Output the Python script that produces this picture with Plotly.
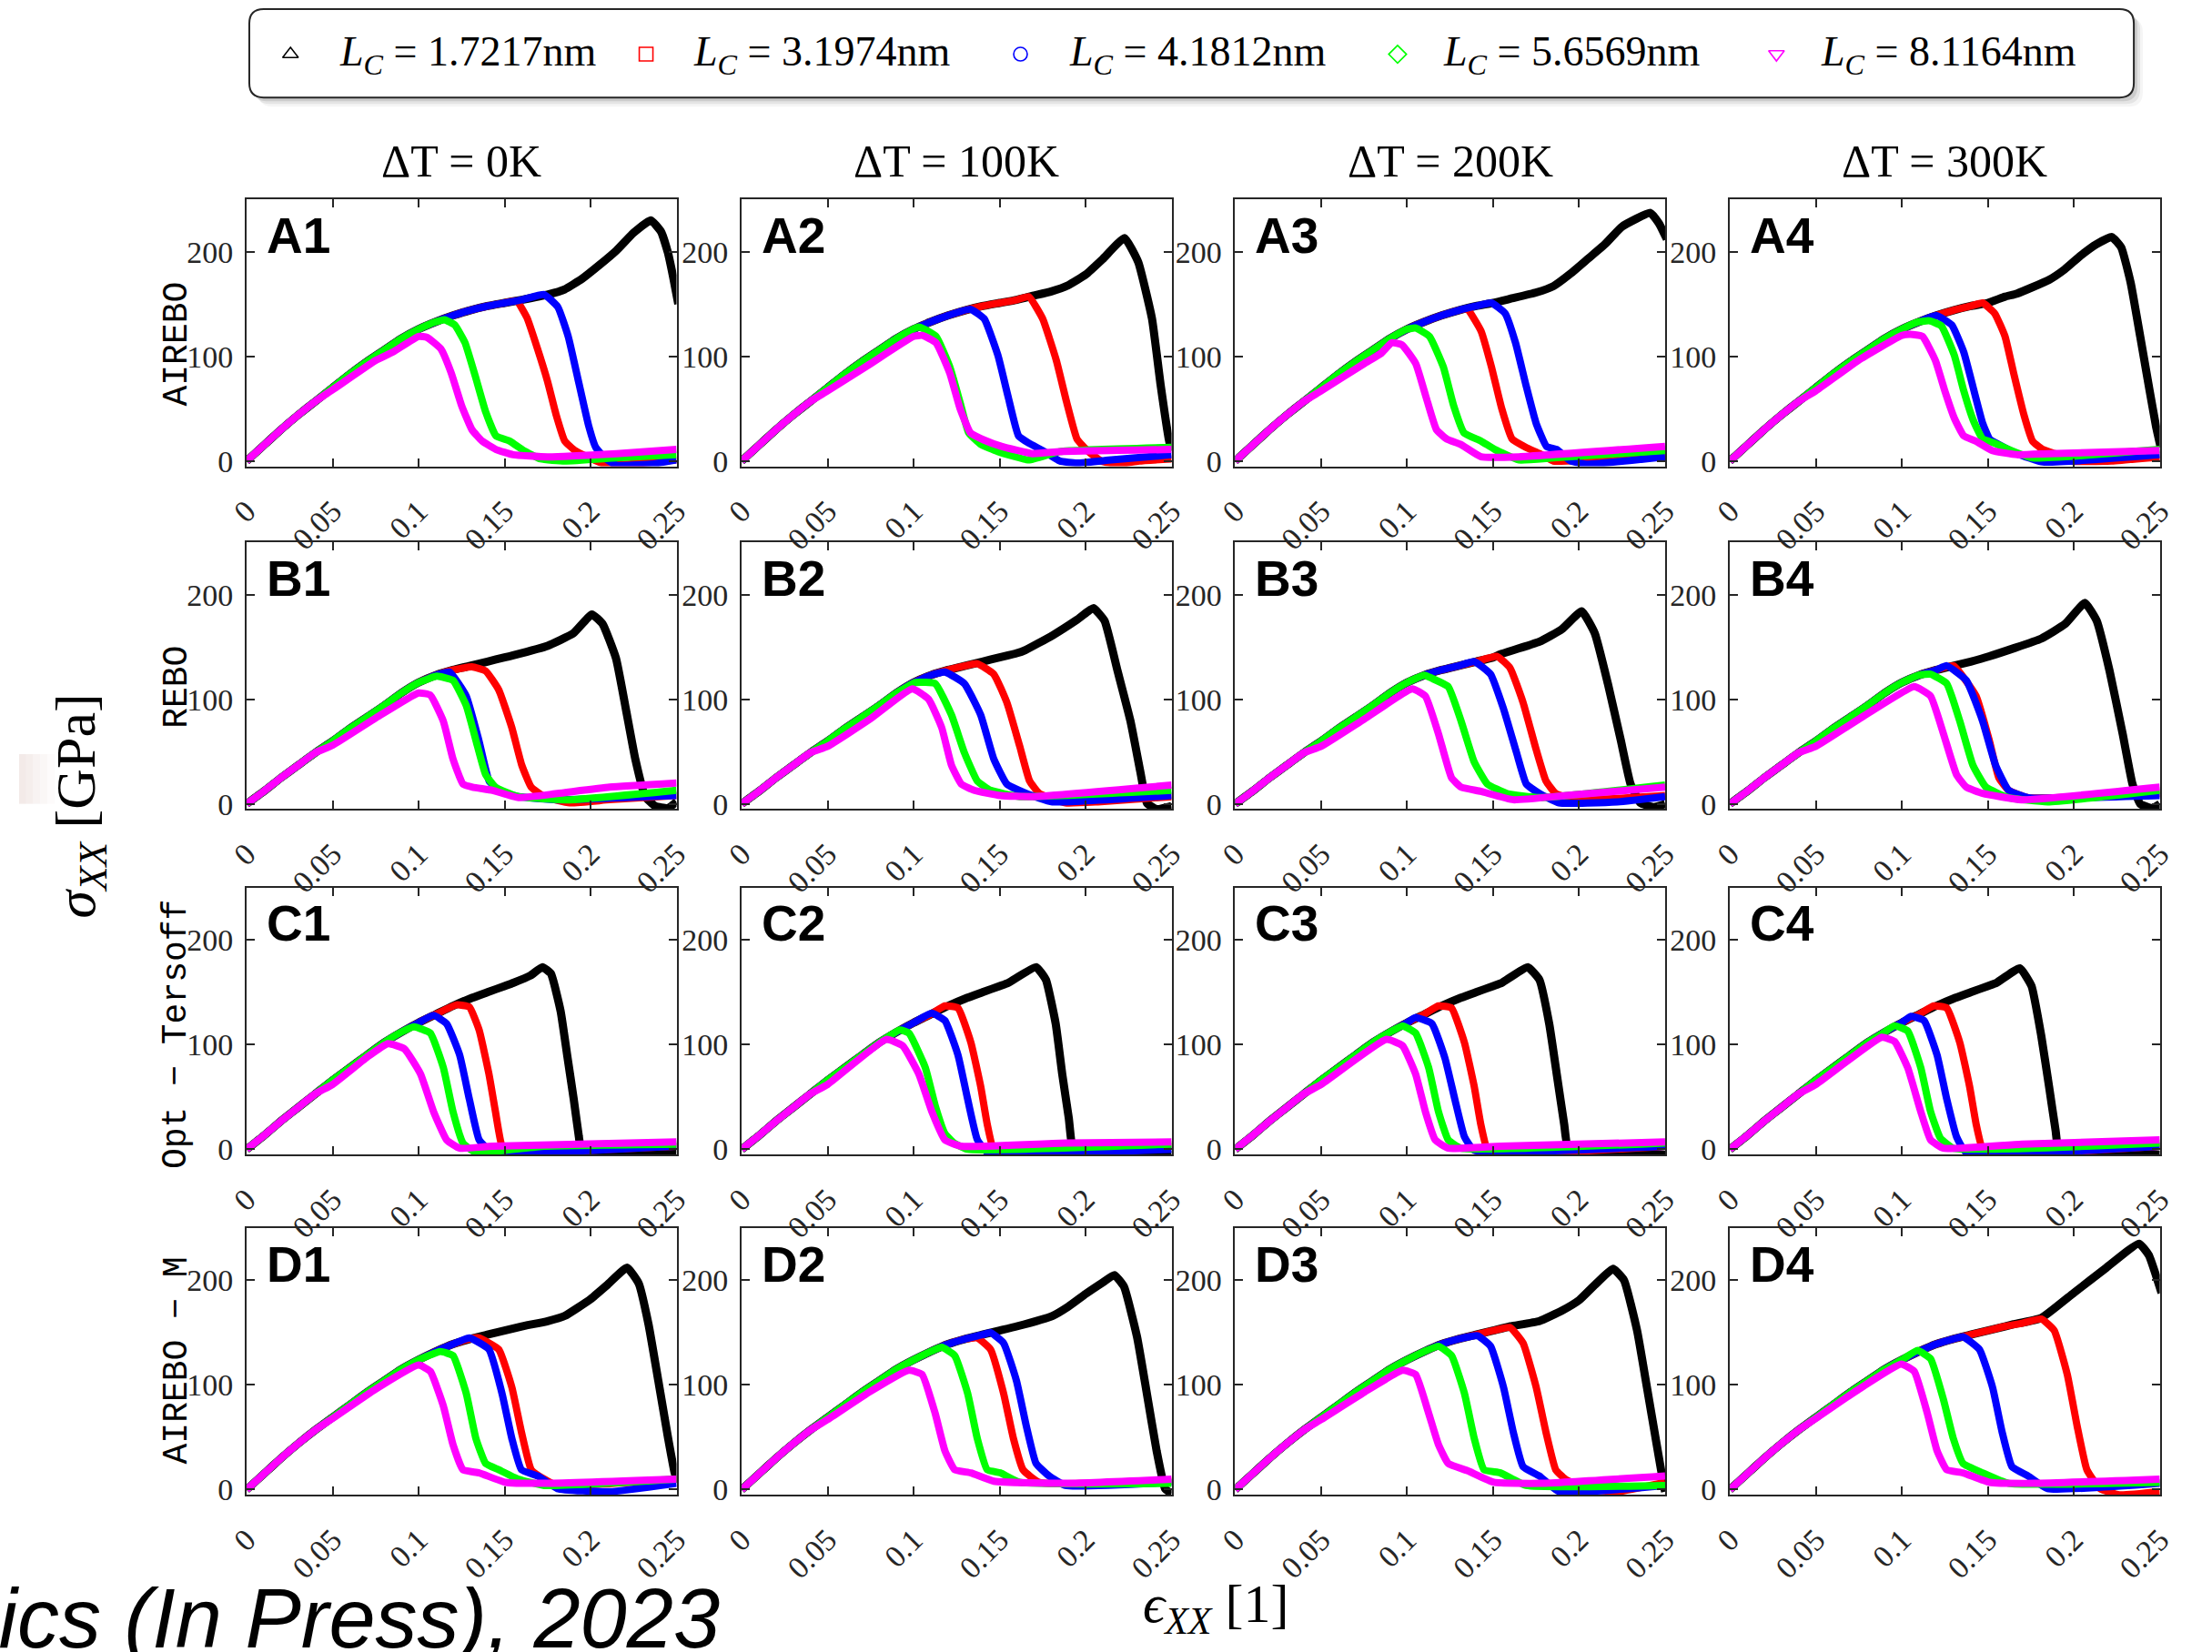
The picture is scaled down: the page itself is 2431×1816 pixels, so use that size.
import plotly.graph_objects as go

FIG_W, FIG_H = 2431, 1816

# ---------------------------------------------------------------- labels / ticks
STRAIN_TICKS = [0, 0.05, 0.1, 0.15, 0.2, 0.25]
STRAIN_LABELS = ["0", "0.05", "0.1", "0.15", "0.2", "0.25"]
STRESS_TICKS = [0, 100, 200]
STRESS_LABELS = ["0", "100", "200"]

TEMPERATURES = ["ΔT = 0K", "ΔT = 100K", "ΔT = 200K", "ΔT = 300K"]
POTENTIALS = ["AIREBO", "REBO", "Opt − Tersoff", "AIREBO − M"]
ROW_TAGS = ["A", "B", "C", "D"]
LC_NM = ["1.7217", "3.1974", "4.1812", "5.6569", "8.1164"]
COLORS = ["#000000", "#ff0000", "#0000ff", "#00ff00", "#ff00ff"]
SYMBOLS = ["triangle-up-open", "square-open", "circle-open", "diamond-open", "triangle-down-open"]

# ---------------------------------------------------------------- data
# common loading path (strain, stress GPa) for each potential
RISE_AIREBO = [(0, 0), (0.01, 15), (0.02, 30), (0.03, 44), (0.04, 57), (0.05, 70), (0.06, 83),
               (0.07, 95), (0.08, 106), (0.09, 117), (0.1, 126), (0.11, 133), (0.12, 139),
               (0.13, 144), (0.14, 148), (0.15, 151), (0.16, 154), (0.17, 157)]
RISE_REBO = [(0, 0), (0.01, 12), (0.02, 25), (0.03, 37), (0.04, 49), (0.05, 60), (0.06, 72),
             (0.07, 83), (0.08, 94), (0.09, 106), (0.1, 116), (0.11, 123), (0.12, 128),
             (0.13, 132), (0.14, 136), (0.15, 140), (0.16, 144), (0.17, 149)]
RISE_OPT_TERSOFF = [(0, 0), (0.01, 13), (0.02, 27), (0.03, 40), (0.04, 53), (0.05, 66), (0.06, 78),
                    (0.07, 90), (0.08, 102), (0.09, 112), (0.1, 121), (0.11, 129), (0.12, 137),
                    (0.13, 144), (0.14, 150), (0.15, 156), (0.16, 162), (0.17, 168)]
RISE_AIREBO_M = [(0, 0), (0.01, 15), (0.02, 30), (0.03, 44), (0.04, 57), (0.05, 69), (0.06, 81),
                 (0.07, 93), (0.08, 104), (0.09, 115), (0.1, 124), (0.11, 132), (0.12, 139),
                 (0.13, 144), (0.14, 148), (0.15, 152), (0.16, 156), (0.17, 159)]

# per panel: post-branch part of each curve, ordered by L_C
A1 = [
    [(0.16, 154), (0.175, 159), (0.185, 164), (0.195, 174), (0.205, 187), (0.215, 201), (0.225, 218),
     (0.235, 230), (0.241, 219), (0.245, 199), (0.248, 176), (0.251, 150)],
    [(0.157, 153), (0.163, 137), (0.169, 108), (0.175, 76), (0.18, 44), (0.185, 19), (0.191, 10),
     (0.198, 4), (0.205, -1), (0.211, -4), (0.23, -2), (0.25, 1)],
    [(0.173, 159), (0.181, 147), (0.187, 119), (0.193, 76), (0.199, 33), (0.203, 13), (0.209, 2),
     (0.215, -4), (0.235, -3), (0.25, 1)],
    [(0.115, 135), (0.121, 130), (0.127, 113), (0.133, 81), (0.139, 47), (0.145, 24), (0.153, 19),
     (0.161, 10), (0.171, 2), (0.185, 0), (0.215, 3), (0.25, 6)],
    [(0.05, 68), (0.075, 96), (0.085, 104), (0.1, 119), (0.105, 118), (0.113, 107), (0.119, 84),
     (0.125, 53), (0.131, 30), (0.137, 19), (0.145, 11), (0.155, 6), (0.175, 4), (0.215, 7), (0.25, 11)],
]
A2 = [
    [(0.16, 154), (0.17, 158), (0.18, 162), (0.19, 168), (0.2, 178), (0.21, 193), (0.2226, 213),
     (0.2306, 190), (0.2386, 136), (0.2436, 73), (0.2486, 19), (0.25, 10)],
    [(0.167, 157), (0.175, 136), (0.183, 96), (0.189, 56), (0.195, 21), (0.201, 10), (0.209, 0),
     (0.219, -3), (0.231, 0), (0.25, 2)],
    [(0.133, 145), (0.141, 136), (0.149, 101), (0.155, 61), (0.161, 24), (0.167, 17), (0.175, 10),
     (0.185, 0), (0.195, -2), (0.215, 1), (0.25, 6)],
    [(0.103, 128), (0.113, 119), (0.121, 90), (0.127, 56), (0.132, 27), (0.139, 16), (0.149, 9),
     (0.167, 1), (0.185, 9), (0.25, 13)],
    [(0.05, 67), (0.075, 93), (0.1, 119), (0.105, 120), (0.113, 113), (0.121, 84), (0.127, 50),
     (0.133, 27), (0.141, 20), (0.151, 14), (0.169, 7), (0.185, 9), (0.25, 11)],
]
A3 = [
    [(0.16, 155), (0.175, 161), (0.185, 167), (0.195, 179), (0.205, 193), (0.215, 207), (0.225, 224),
     (0.2414, 237), (0.2464, 227), (0.251, 212)],
    [(0.135, 145), (0.143, 124), (0.149, 90), (0.155, 50), (0.161, 21), (0.169, 13), (0.177, 7),
     (0.185, 0), (0.205, 1), (0.25, 4)],
    [(0.149, 151), (0.157, 141), (0.163, 113), (0.169, 73), (0.175, 36), (0.181, 14), (0.187, 11),
     (0.195, 0), (0.205, -3), (0.25, 4)],
    [(0.105, 127), (0.113, 119), (0.121, 90), (0.127, 53), (0.133, 27), (0.143, 19), (0.151, 11),
     (0.165, 1), (0.185, 3), (0.25, 10)],
    [(0.05, 67), (0.075, 93), (0.085, 103), (0.091, 113), (0.097, 111), (0.105, 93), (0.111, 61),
     (0.117, 30), (0.123, 21), (0.131, 16), (0.143, 4), (0.165, 4), (0.25, 14)],
]
A4 = [
    [(0.16, 157), (0.167, 160), (0.1855, 173), (0.1946, 183), (0.2038, 196), (0.213, 207), (0.2221, 214),
     (0.2276, 204), (0.2331, 170), (0.2386, 119), (0.2441, 67), (0.2478, 33), (0.2505, 13)],
    [(0.147, 151), (0.154, 141), (0.16, 119), (0.165, 84), (0.171, 44), (0.176, 19), (0.182, 11),
     (0.189, 7), (0.196, 0), (0.222, 0), (0.25, 4)],
    [(0.12, 139), (0.129, 130), (0.136, 104), (0.1415, 70), (0.147, 36), (0.151, 21), (0.156, 16),
     (0.167, 7), (0.182, -1), (0.25, 6)],
    [(0.116, 134), (0.123, 129), (0.1305, 101), (0.136, 67), (0.1415, 39), (0.147, 21), (0.154, 17),
     (0.1635, 10), (0.176, 3), (0.25, 11)],
    [(0.05, 67), (0.0755, 97), (0.1, 120), (0.105, 121), (0.112, 119), (0.1195, 96), (0.125, 67),
     (0.1305, 41), (0.136, 24), (0.143, 19), (0.1525, 10), (0.167, 6), (0.1855, 7), (0.25, 10)],
]

B1 = [
    [(0.155, 142), (0.175, 151), (0.19, 163), (0.2008, 181), (0.207, 172), (0.2148, 139), (0.2205, 91),
     (0.226, 43), (0.2318, 7), (0.2375, -2), (0.245, -4), (0.25, 2)],
    [(0.131, 131), (0.139, 127), (0.1466, 109), (0.1542, 73), (0.16, 37), (0.1655, 16), (0.173, 7),
     (0.188, 1), (0.211, 4), (0.25, 8)],
    [(0.118, 126), (0.1277, 103), (0.135, 61), (0.141, 22), (0.1466, 13), (0.158, 7), (0.1807, 4), (0.25, 8)],
    [(0.1106, 122), (0.12, 118), (0.1277, 94), (0.1333, 61), (0.139, 28), (0.1447, 16), (0.158, 7),
     (0.188, 4), (0.25, 13)],
    [(0.05, 56), (0.075, 82), (0.1, 106), (0.1068, 104), (0.1144, 79), (0.12, 43), (0.1258, 19),
     (0.1314, 16), (0.143, 13), (0.158, 6), (0.1807, 10), (0.211, 16), (0.25, 20)],
]
B2 = [
    [(0.165, 147), (0.1807, 161), (0.195, 176), (0.2045, 187), (0.211, 175), (0.2186, 127),
     (0.2261, 79), (0.2318, 31), (0.2356, 1), (0.2413, -5), (0.25, -2)],
    [(0.137, 134), (0.1466, 124), (0.1542, 97), (0.1617, 55), (0.1674, 22), (0.1731, 10), (0.1883, 1),
     (0.2072, 2), (0.25, 7)],
    [(0.1182, 126), (0.1295, 115), (0.139, 85), (0.1466, 43), (0.1542, 19), (0.1655, 10), (0.1807, 2), (0.25, 8)],
    [(0.1011, 116), (0.1125, 115), (0.122, 85), (0.1295, 49), (0.137, 22), (0.1447, 13), (0.1617, 7), (0.25, 13)],
    [(0.05, 55), (0.0746, 81), (0.0992, 110), (0.1087, 100), (0.1163, 73), (0.122, 37), (0.1277, 19),
     (0.1352, 13), (0.1504, 8), (0.1693, 7), (0.25, 18)],
]
B3 = [
    [(0.1542, 143), (0.1769, 155), (0.19, 167), (0.2015, 184), (0.2091, 163), (0.2167, 115),
     (0.2242, 61), (0.2299, 19), (0.2356, 1), (0.2432, -3), (0.25, 0)],
    [(0.1523, 141), (0.1598, 130), (0.1674, 97), (0.175, 52), (0.1807, 22), (0.1864, 10), (0.1996, 4), (0.25, 8)],
    [(0.139, 136), (0.1485, 124), (0.156, 91), (0.1636, 49), (0.1693, 19), (0.1769, 10), (0.1883, 1),
     (0.2223, 2), (0.25, 7)],
    [(0.1144, 120), (0.1239, 112), (0.1314, 79), (0.139, 40), (0.1466, 19), (0.158, 10), (0.1769, 6), (0.25, 18)],
    [(0.05, 55), (0.075, 81), (0.103, 110), (0.1106, 103), (0.1182, 67), (0.1258, 25), (0.1314, 16),
     (0.1428, 12), (0.1617, 4), (0.192, 8), (0.25, 16)],
]
B4 = [
    [(0.1508, 141), (0.1811, 158), (0.195, 172), (0.2064, 192), (0.2133, 175), (0.2208, 127),
     (0.2284, 67), (0.2341, 19), (0.2386, 0), (0.2455, -4), (0.25, 0)],
    [(0.13, 132), (0.1432, 103), (0.1508, 61), (0.1564, 25), (0.1621, 13), (0.1735, 6), (0.25, 10)],
    [(0.1261, 132), (0.1375, 118), (0.147, 79), (0.1545, 37), (0.1621, 13), (0.1735, 6), (0.25, 8)],
    [(0.1167, 124), (0.1261, 115), (0.1337, 79), (0.1413, 37), (0.1489, 16), (0.1621, 6), (0.1848, 2), (0.25, 13)],
    [(0.05, 55), (0.075, 81), (0.1072, 112), (0.1167, 103), (0.1242, 67), (0.1318, 28), (0.1375, 16),
     (0.147, 10), (0.1697, 4), (0.25, 16)],
]

C1 = [
    [(0.155, 159), (0.165, 166), (0.172, 174), (0.1769, 168), (0.1826, 132), (0.1864, 90), (0.1902, 48),
     (0.1932, 12), (0.195, -3), (0.22, -1), (0.25, -3)],
    [(0.122, 138), (0.1295, 136), (0.1352, 114), (0.1409, 72), (0.1447, 36), (0.1485, 3), (0.1542, -6),
     (0.1731, -3), (0.25, 3)],
    [(0.1087, 128), (0.1163, 120), (0.1239, 90), (0.1295, 48), (0.1352, 9), (0.1428, -3), (0.1731, -3), (0.25, 3)],
    [(0.0973, 117), (0.1068, 111), (0.1144, 78), (0.12, 36), (0.1258, 6), (0.1333, -3), (0.1731, 3), (0.25, 5)],
    [(0.05, 62), (0.07, 88), (0.0822, 101), (0.0917, 96), (0.1011, 72), (0.1087, 36), (0.1163, 9),
     (0.1239, 1), (0.1428, 3), (0.25, 7)],
]
C2 = [
    [(0.155, 159), (0.1712, 174), (0.1769, 162), (0.1826, 120), (0.1864, 72), (0.1902, 30), (0.1932, -3),
     (0.2072, -3), (0.25, -5)],
    [(0.1182, 137), (0.1258, 135), (0.1333, 102), (0.139, 60), (0.1428, 24), (0.1466, 0), (0.158, -3), (0.25, 3)],
    [(0.1106, 130), (0.1182, 123), (0.1258, 90), (0.1314, 48), (0.1371, 9), (0.1447, -6), (0.1693, -5), (0.25, 0)],
    [(0.092, 114), (0.0973, 111), (0.1068, 78), (0.1125, 42), (0.1182, 15), (0.1235, 6), (0.1314, 0), (0.25, 5)],
    [(0.05, 62), (0.084, 105), (0.0936, 99), (0.103, 72), (0.1106, 36), (0.1182, 9), (0.1276, 3),
     (0.1883, 6), (0.25, 7)],
]
C3 = [
    [(0.155, 159), (0.1701, 174), (0.1769, 162), (0.1826, 120), (0.1875, 66), (0.1913, 24), (0.1939, 0),
     (0.2299, -3), (0.25, -5)],
    [(0.1182, 137), (0.1258, 135), (0.1333, 102), (0.139, 60), (0.1428, 24), (0.1466, 0), (0.1542, -5), (0.25, 3)],
    [(0.1049, 126), (0.1144, 120), (0.122, 87), (0.1277, 48), (0.1333, 12), (0.139, -1), (0.25, 3)],
    [(0.0973, 118), (0.1049, 111), (0.1125, 78), (0.1182, 36), (0.1239, 9), (0.1314, 1), (0.25, 6)],
    [(0.05, 62), (0.0879, 105), (0.0973, 99), (0.1049, 72), (0.1106, 36), (0.1163, 9), (0.1239, 1),
     (0.1542, 3), (0.25, 7)],
]
C4 = [
    [(0.155, 159), (0.1686, 173), (0.1754, 156), (0.1811, 108), (0.1856, 60), (0.1894, 18), (0.1917, -3),
     (0.2265, -3), (0.25, -5)],
    [(0.1186, 137), (0.1261, 135), (0.1337, 102), (0.1394, 60), (0.1432, 24), (0.147, 0), (0.1545, -5), (0.25, 3)],
    [(0.1053, 127), (0.1129, 123), (0.1205, 90), (0.1261, 48), (0.1318, 12), (0.1375, -3), (0.25, 3)],
    [(0.0958, 118), (0.1034, 113), (0.111, 78), (0.1167, 36), (0.1223, 11), (0.1299, 1), (0.25, 6)],
    [(0.05, 62), (0.0883, 107), (0.0958, 103), (0.1034, 78), (0.111, 36), (0.1167, 9), (0.1242, 1),
     (0.1697, 5), (0.25, 9)],
]

D1 = [
    [(0.16, 156), (0.175, 161), (0.185, 166), (0.2, 182), (0.21, 196), (0.2212, 212), (0.228, 197),
     (0.2337, 158), (0.2394, 104), (0.2451, 49), (0.2489, 16), (0.251, 7)],
    [(0.135, 145), (0.1466, 134), (0.1542, 98), (0.1598, 55), (0.1655, 19), (0.1731, 10), (0.1807, 4), (0.25, 10)],
    [(0.1295, 145), (0.1409, 134), (0.1485, 92), (0.1542, 49), (0.1598, 19), (0.1693, 13), (0.1807, 1),
     (0.211, -2), (0.25, 6)],
    [(0.1125, 132), (0.12, 128), (0.1277, 92), (0.1333, 49), (0.139, 25), (0.1466, 19), (0.158, 10),
     (0.1731, 4), (0.25, 10)],
    [(0.05, 68), (0.075, 96), (0.1, 119), (0.1068, 113), (0.1144, 80), (0.12, 43), (0.1258, 19),
     (0.1352, 16), (0.1504, 7), (0.1731, 6), (0.25, 10)],
]
D2 = [
    [(0.16, 156), (0.1807, 166), (0.19, 175), (0.2, 187), (0.21, 198), (0.2167, 205), (0.2223, 194),
     (0.2299, 146), (0.2356, 92), (0.2413, 37), (0.2462, 1), (0.25, -4)],
    [(0.137, 145), (0.1447, 134), (0.1523, 92), (0.158, 49), (0.1636, 19), (0.1731, 7), (0.25, 8)],
    [(0.1447, 150), (0.1523, 140), (0.1598, 104), (0.1655, 61), (0.1712, 25), (0.1788, 13), (0.1883, 4), (0.25, 7)],
    [(0.1163, 136), (0.1239, 128), (0.1314, 92), (0.137, 49), (0.1428, 19), (0.1504, 16), (0.1617, 7), (0.25, 6)],
    [(0.05, 67), (0.075, 94), (0.0973, 114), (0.1049, 110), (0.1125, 73), (0.1182, 37), (0.1239, 19),
     (0.1333, 16), (0.1466, 8), (0.1883, 6), (0.25, 10)],
]
D3 = [
    [(0.16, 156), (0.1769, 161), (0.19, 171), (0.2, 181), (0.21, 197), (0.2197, 211), (0.2261, 200),
     (0.2337, 152), (0.2394, 98), (0.2451, 43), (0.2489, 7), (0.25, -2)],
    [(0.1598, 155), (0.1674, 140), (0.175, 98), (0.1807, 55), (0.1864, 19), (0.192, 10), (0.2034, 1),
     (0.2223, -2), (0.25, 7)],
    [(0.1409, 147), (0.1485, 137), (0.156, 98), (0.1617, 55), (0.1674, 22), (0.1769, 13), (0.1883, -2), (0.25, 4)],
    [(0.1182, 137), (0.1258, 128), (0.1333, 92), (0.139, 49), (0.1447, 19), (0.1542, 16), (0.1693, 4), (0.25, 4)],
    [(0.05, 67), (0.075, 93), (0.0973, 114), (0.1049, 110), (0.1125, 73), (0.1182, 43), (0.1239, 25),
     (0.1352, 18), (0.1504, 7), (0.1769, 6), (0.25, 13)],
]
D4 = [
    [(0.165, 158), (0.1811, 164), (0.2, 188), (0.2189, 212), (0.2379, 235), (0.2436, 224), (0.251, 188)],
    [(0.1811, 163), (0.1886, 152), (0.1962, 110), (0.2019, 61), (0.2076, 19), (0.2152, 1), (0.2265, -5), (0.25, -2)],
    [(0.1356, 146), (0.1451, 134), (0.1527, 98), (0.1583, 55), (0.164, 22), (0.1735, 13), (0.1848, 1), (0.25, 6)],
    [(0.1091, 133), (0.1167, 125), (0.1242, 86), (0.1299, 49), (0.1356, 25), (0.147, 16), (0.1621, 6), (0.25, 7)],
    [(0.05, 68), (0.075, 96), (0.0996, 120), (0.1072, 113), (0.1148, 73), (0.1205, 37), (0.1261, 19),
     (0.1356, 16), (0.1508, 7), (0.1773, 6), (0.25, 10)],
]

RISES = [RISE_AIREBO, RISE_REBO, RISE_OPT_TERSOFF, RISE_AIREBO_M]
PANELS = [[A1, A2, A3, A4], [B1, B2, B3, B4], [C1, C2, C3, C4], [D1, D2, D3, D4]]

# ---------------------------------------------------------------- geometry (pixels)
COL_LEFT = [254, 806.7, 1357.7, 1910]
ROW_TOP = [220.7, 600.4, 982.8, 1359.6]
AX_W, AX_H = 480, 295.5

AXIS_COLOR = "#262626"
SERIF = "Liberation Serif, Times New Roman, serif"


def fx(px):
    return px / FIG_W


def fy(py):
    return 1 - py / FIG_H


fig = go.Figure()
layout = dict(
    width=FIG_W, height=FIG_H, autosize=False,
    margin=dict(l=0, r=0, t=0, b=0, pad=0),
    paper_bgcolor="white", plot_bgcolor="rgba(0,0,0,0)",
    showlegend=False,
    font=dict(family=SERIF, color=AXIS_COLOR),
)

annotations = []
shapes = []

for r in range(4):
    for c in range(4):
        k = r * 4 + c + 1
        xname = "xaxis" if k == 1 else f"xaxis{k}"
        yname = "yaxis" if k == 1 else f"yaxis{k}"
        xref = "x" if k == 1 else f"x{k}"
        yref = "y" if k == 1 else f"y{k}"
        left, top = COL_LEFT[c], ROW_TOP[r]
        common = dict(
            showline=True, linecolor=AXIS_COLOR, linewidth=2, mirror="ticks",
            ticks="inside", ticklen=9, tickwidth=1.5, tickcolor=AXIS_COLOR,
            showgrid=False, zeroline=False, fixedrange=True,
            tickfont=dict(family=SERIF, size=34, color=AXIS_COLOR),
        )
        layout[xname] = dict(
            domain=[fx(left), fx(left + AX_W)], range=[0, 0.25], anchor=yref,
            tickvals=STRAIN_TICKS, ticktext=STRAIN_LABELS, tickangle=-45,
            ticklabelstandoff=14, **common)
        layout[yname] = dict(
            domain=[fy(top + AX_H), fy(top)], range=[-5, 250], anchor=xref,
            tickvals=STRESS_TICKS, ticktext=STRESS_LABELS, ticklabelstandoff=6, **common)

        rise = RISES[r]
        for i, tail in enumerate(PANELS[r][c]):
            pts = [p for p in rise if p[0] < tail[0][0] - 0.004] + tail
            fig.add_trace(go.Scatter(
                x=[p[0] for p in pts], y=[p[1] for p in pts], mode="lines",
                line=dict(color=COLORS[i], width=9 if i == 0 else 8, shape="spline", smoothing=0.4),
                xaxis=xref, yaxis=yref, hoverinfo="skip",
            ))

        # panel tag
        annotations.append(dict(
            text=f"<b>{ROW_TAGS[r]}{c + 1}</b>", x=fx(left + 20), y=fy(top + 40),
            xref="paper", yref="paper", xanchor="left", yanchor="middle", showarrow=False,
            font=dict(family="Liberation Sans, Arial, sans-serif", size=55, color="black")))

# column titles
for c, title in enumerate(TEMPERATURES):
    annotations.append(dict(
        text=title, x=fx(COL_LEFT[c] + AX_W / 2), y=fy(178), xref="paper", yref="paper",
        xanchor="center", yanchor="middle", showarrow=False,
        font=dict(family=SERIF, size=50, color="black")))

# potential names
ROW_LABEL_Y = [381, 761, 1145, 1506]
for r, name in enumerate(POTENTIALS):
    annotations.append(dict(
        text=name, x=fx(176), y=fy(ROW_LABEL_Y[r]), xref="paper", yref="paper",
        xanchor="center", yanchor="middle", textangle=-90, showarrow=False,
        font=dict(family="Liberation Mono, DejaVu Sans Mono, monospace", size=38, color="black")))

# axis titles
annotations.append(dict(
    text="<i>σ</i><sub><i>XX</i></sub> [GPa]", x=fx(68), y=fy(892), xref="paper", yref="paper",
    xanchor="center", yanchor="middle", textangle=-90, showarrow=False,
    font=dict(family=SERIF, size=62, color="black")))
annotations.append(dict(
    text="<i>ϵ</i><sub><i>XX</i></sub> [1]", x=fx(1336), y=fy(1780), xref="paper", yref="paper",
    xanchor="center", yanchor="middle", showarrow=False,
    font=dict(family=SERIF, size=60, color="black")))

# citation strip at the bottom edge
annotations.append(dict(
    text="<i>Physics (In Press), 2023</i>", x=fx(784), y=fy(1792), xref="paper", yref="paper",
    xanchor="right", yanchor="middle", showarrow=False,
    font=dict(family="Liberation Sans Narrow, Liberation Sans, Arial, sans-serif", size=92, color="black")))

# faint gray patch left of the stress label
for x0, col in [(0, "#f3eae8"), (8, "#f5eeec"), (16, "#f8f3f2"), (24, "#faf7f6"), (32, "#fdfbfb")]:
    shapes.append(dict(type="rect", xref="paper", yref="paper", x0=fx(x0), x1=fx(x0 + 8),
                       y0=fy(890), y1=fy(835), line=dict(width=0), fillcolor=col, layer="below"))


# legend box (rounded, with drop shadow)
def rounded_rect(x0, y0, x1, y1, rad):
    pts = [
        f"M{fx(x0 + rad)},{fy(y0)}", f"L{fx(x1 - rad)},{fy(y0)}",
        f"Q{fx(x1)},{fy(y0)} {fx(x1)},{fy(y0 + rad)}", f"L{fx(x1)},{fy(y1 - rad)}",
        f"Q{fx(x1)},{fy(y1)} {fx(x1 - rad)},{fy(y1)}", f"L{fx(x0 + rad)},{fy(y1)}",
        f"Q{fx(x0)},{fy(y1)} {fx(x0)},{fy(y1 - rad)}", f"L{fx(x0)},{fy(y0 + rad)}",
        f"Q{fx(x0)},{fy(y0)} {fx(x0 + rad)},{fy(y0)}", "Z",
    ]
    return " ".join(pts)


LEG_X0, LEG_Y0, LEG_X1, LEG_Y1 = 257, 10, 2361, 108
for off, alpha in [(10, 0.06), (7, 0.10), (4, 0.16)]:
    shapes.append(dict(type="path", xref="paper", yref="paper",
                       path=rounded_rect(LEG_X0 + off, LEG_Y0 + off, LEG_X1 + off, LEG_Y1 + off, 16),
                       fillcolor=f"rgba(80,80,80,{alpha})", line=dict(width=0), layer="below"))
shapes.append(dict(type="path", xref="paper", yref="paper",
                   path=rounded_rect(LEG_X0, LEG_Y0, LEG_X1, LEG_Y1, 16),
                   fillcolor="white", line=dict(color=AXIS_COLOR, width=2), layer="below"))

LEG_MARK_X = [303, 700, 1118, 1539, 1962]
LEG_TEXT_X = [356, 751, 1170, 1588, 2009]
LEG_Y = 60

# helper axis in pixel units for the legend symbols
layout["xaxis17"] = dict(domain=[0, 1], range=[0, FIG_W], visible=False, fixedrange=True, anchor="y17")
layout["yaxis17"] = dict(domain=[0, 1], range=[FIG_H, 0], visible=False, fixedrange=True, anchor="x17")
fig.add_trace(go.Scatter(
    x=LEG_MARK_X, y=[LEG_Y] * 5, mode="markers", xaxis="x17", yaxis="y17", hoverinfo="skip",
    marker=dict(symbol=SYMBOLS, color=COLORS, size=15, line=dict(width=1.6, color=COLORS)),
))
for i, lc in enumerate(LC_NM):
    annotations.append(dict(
        text=f"<i>L</i><sub><i>C</i></sub> = {lc}nm", x=fx(LEG_TEXT_X[i]), y=fy(LEG_Y),
        xref="paper", yref="paper", xanchor="left", yanchor="middle", showarrow=False,
        font=dict(family=SERIF, size=46, color="black")))

layout["annotations"] = annotations
layout["shapes"] = shapes
fig.update_layout(**layout)
fig.write_html("out.html", post_script="document.body.style.margin='0';document.body.style.overflow='hidden';")
